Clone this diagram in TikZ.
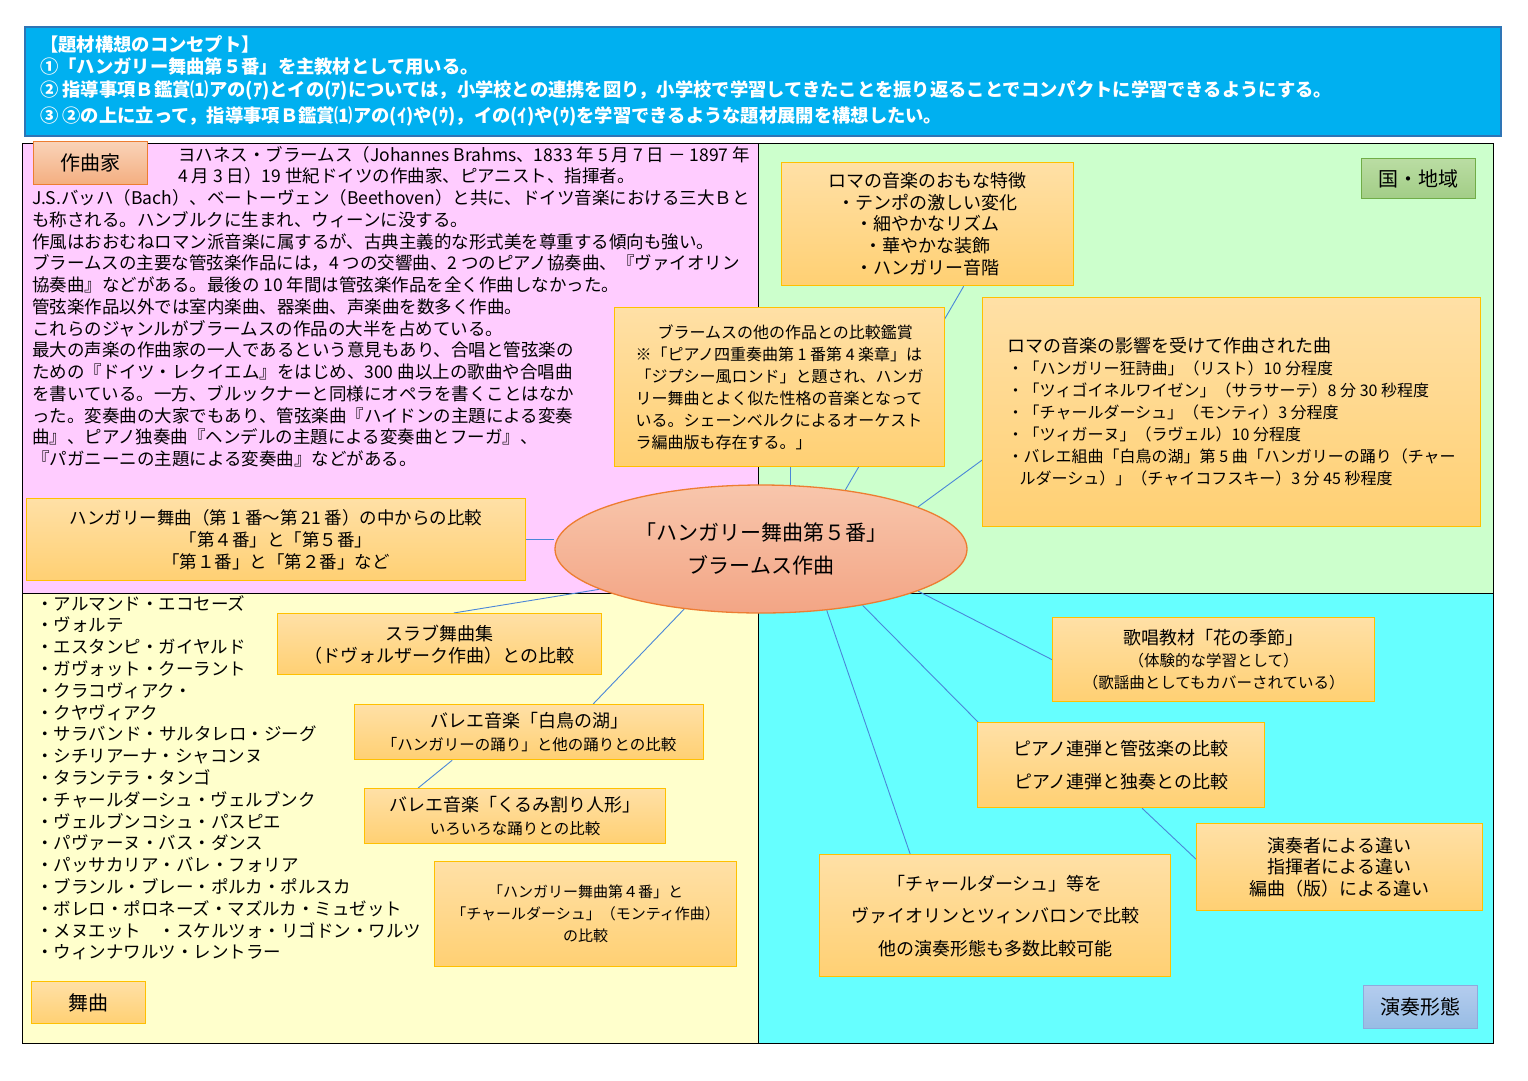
\documentclass[tikz,border=0pt]{standalone}
\usepackage{fontspec}
\setmainfont{Noto Sans CJK JP}
\usetikzlibrary{shapes.geometric}
\definecolor{bannerfill}{HTML}{00B0F0}
\definecolor{bannerline}{HTML}{2E75B6}
\definecolor{quadpink}{HTML}{FFCCFF}
\definecolor{quadgreen}{HTML}{CCFFCC}
\definecolor{quadyellow}{HTML}{FFFFCC}
\definecolor{quadcyan}{HTML}{66FFFF}
\definecolor{topicline}{HTML}{FFC000}
\definecolor{topictop}{HTML}{FFE0A6}
\definecolor{topicbot}{HTML}{FFD073}
\definecolor{linkblue}{HTML}{4A86D8}
\definecolor{ellline}{HTML}{ED7D31}
\definecolor{elltop}{HTML}{F8C6AC}
\definecolor{ellbot}{HTML}{F3A585}
\definecolor{composertop}{HTML}{F9D3B8}
\definecolor{composerbot}{HTML}{F4AE80}
\definecolor{regiontop}{HTML}{BADDA3}
\definecolor{regionbot}{HTML}{A2CD86}
\definecolor{regionline}{HTML}{70AD47}
\definecolor{formtop}{HTML}{B4CCEE}
\definecolor{formbot}{HTML}{97BCE4}
\definecolor{formline}{HTML}{8FAADC}
\pgfdeclarelayer{quads}
\pgfdeclarelayer{links}
\pgfsetlayers{quads,links,main}
\tikzset{
  topic/.style={draw=topicline, line width=1.3pt, top color=topictop, bottom color=topicbot,
    align=center, inner sep=0pt, anchor=north west},
  tag/.style={line width=1.3pt, align=center, inner sep=0pt, anchor=north west,
    minimum width=114pt, font=\fontsize{20}{24}\selectfont},
  link/.style={draw=linkblue, line width=0.9pt},
}
\begin{document}
\begin{tikzpicture}[x=1pt,y=-1pt]
\useasboundingbox (0,0) rectangle (1528,1080);
% banner
\node (banner) [draw=bannerline, line width=2pt, fill=bannerfill, anchor=north west,
  minimum width=1476pt, minimum height=109pt, inner sep=0pt] at (24,26) {};
\node (concept) [anchor=north west, align=left, text=white, inner sep=0pt,
  font=\bfseries\fontsize{18.3}{22.5}\selectfont] at (40,35)
  {【題材構想のコンセプト】\\
   ①「ハンガリー舞曲第５番」を主教材として用いる。\\
   ② 指導事項Ｂ鑑賞⑴アの(ｱ)とイの(ｱ)については，小学校との連携を図り，小学校で学習してきたことを振り返ることでコンパクトに学習できるようにする。\\[4pt]
   ③ ②の上に立って，指導事項Ｂ鑑賞⑴アの(ｲ)や(ｳ)，イの(ｲ)や(ｳ)を学習できるような題材展開を構想したい。};
% quadrants
\begin{pgfonlayer}{quads}
  \fill [white] (0,0) rectangle (1528,1080);
  \fill [quadpink] (22,143) rectangle (758,593);
  \fill [quadgreen] (758,143) rectangle (1493,593);
  \fill [quadyellow] (22,593) rectangle (758,1043);
  \fill [quadcyan] (758,593) rectangle (1493,1043);
  \draw [line width=1pt] (22,143) rectangle (1493,1043);
  \draw [line width=1pt] (758,143) -- (758,1043);
  \draw [line width=1pt] (22,593) -- (1493,593);
\end{pgfonlayer}
% corner tags
\node (composer) [tag, draw=ellline, top color=composertop, bottom color=composerbot,
  minimum height=43pt] at (33,141) {作曲家};
\node (region) [tag, draw=regionline, top color=regiontop, bottom color=regionbot,
  minimum height=40pt] at (1361,158) {国・地域};
\node (dance) [tag, draw=topicline, top color=topictop, bottom color=topicbot,
  minimum height=42pt] at (31,981) {舞曲};
\node (form) [tag, draw=formline, top color=formtop, bottom color=formbot,
  minimum height=43pt] at (1363,985) {演奏形態};
% composer text
\node (bio) [anchor=north west, align=left, inner sep=0pt,
  font=\fontsize{17.5}{21.75}\selectfont] at (32,146)
  {\hspace*{146pt}ヨハネス・ブラームス（Johannes Brahms、1833 年 5 月 7 日 － 1897 年\\
   \hspace*{146pt}4 月 3 日）19 世紀ドイツの作曲家、ピアニスト、指揮者。\\
   J.S.バッハ（Bach）、ベートーヴェン（Beethoven）と共に、ドイツ音楽における三大Ｂと\\
   も称される。ハンブルクに生まれ、ウィーンに没する。\\
   作風はおおむねロマン派音楽に属するが、古典主義的な形式美を尊重する傾向も強い。\\
   ブラームスの主要な管弦楽作品には，4 つの交響曲、2 つのピアノ協奏曲、『ヴァイオリン\\
   協奏曲』などがある。最後の 10 年間は管弦楽作品を全く作曲しなかった。\\
   管弦楽作品以外では室内楽曲、器楽曲、声楽曲を数多く作曲。\\
   これらのジャンルがブラームスの作品の大半を占めている。\\
   最大の声楽の作曲家の一人であるという意見もあり、合唱と管弦楽の\\
   ための『ドイツ・レクイエム』をはじめ、300 曲以上の歌曲や合唱曲\\
   を書いている。一方、ブルックナーと同様にオペラを書くことはなか\\
   った。変奏曲の大家でもあり、管弦楽曲『ハイドンの主題による変奏\\
   曲』、ピアノ独奏曲『ヘンデルの主題による変奏曲とフーガ』、\\
   『パガニーニの主題による変奏曲』などがある。};
% dance list
\node (dancelist) [anchor=north west, align=left, inner sep=0pt,
  font=\fontsize{17.5}{21.8}\selectfont] at (36,595)
  {・アルマンド・エコセーズ\\ ・ヴォルテ\\ ・エスタンピ・ガイヤルド\\
   ・ガヴォット・クーラント\\ ・クラコヴィアク・\\ ・クヤヴィアク\\
   ・サラバンド・サルタレロ・ジーグ\\ ・シチリアーナ・シャコンヌ\\
   ・タランテラ・タンゴ\\ ・チャールダーシュ・ヴェルブンク\\
   ・ヴェルブンコシュ・パスピエ\\ ・パヴァーヌ・バス・ダンス\\
   ・パッサカリア・バレ・フォリア\\ ・ブランル・ブレー・ポルカ・ポルスカ\\
   ・ボレロ・ポロネーズ・マズルカ・ミュゼット\\
   ・メヌエット　・スケルツォ・リゴドン・ワルツ\\ ・ウィンナワルツ・レントラー};
% central theme
\node (theme) [ellipse, draw=ellline, line width=1.3pt, top color=elltop, bottom color=ellbot,
  minimum width=412pt, minimum height=128pt, inner sep=0pt, align=center,
  font=\fontsize{21}{33}\selectfont] at (761,549)
  {「ハンガリー舞曲第５番」\\ ブラームス作曲};
% topic boxes
\node (romatraits) [topic, minimum width=292pt, minimum height=123pt,
  font=\fontsize{18}{21.7}\selectfont] at (781,162)
  {ロマの音楽のおもな特徴\\ ・テンポの激しい変化\\ ・細やかなリズム\\ ・華やかな装飾\\ ・ハンガリー音階};
\node (otherworks) [topic, minimum width=330pt, minimum height=159pt, align=left,
  font=\fontsize{16}{22}\selectfont] at (614,307)
  {\hspace*{22pt}ブラームスの他の作品との比較鑑賞\\
   ※「ピアノ四重奏曲第 1 番第 4 楽章」は\\
   「ジプシー風ロンド」と題され、ハンガ\\
   リー舞曲とよく似た性格の音楽となって\\
   いる。シェーンベルクによるオーケスト\\
   ラ編曲版も存在する。」};
\node (romaworks) [topic, minimum width=498pt, minimum height=229pt, align=left,
  font=\fontsize{16}{22}\selectfont] at (982,297)
  {{\fontsize{18}{22}\selectfont ロマの音楽の影響を受けて作曲された曲}\\
   ・「ハンガリー狂詩曲」（リスト）10 分程度\\
   ・「ツィゴイネルワイゼン」（サラサーテ）8 分 30 秒程度\\
   ・「チャールダーシュ」（モンティ）3 分程度\\
   ・「ツィガーヌ」（ラヴェル）10 分程度\\
   ・バレエ組曲「白鳥の湖」第 5 曲「ハンガリーの踊り（チャー\\
   \hspace*{12pt}ルダーシュ）」（チャイコフスキー）3 分 45 秒程度};
\node (hungdances) [topic, minimum width=499pt, minimum height=82pt,
  font=\fontsize{17.5}{22}\selectfont] at (26,498)
  {ハンガリー舞曲（第 1 番～第 21 番）の中からの比較\\
   「第４番」と「第５番」\\ 「第１番」と「第２番」など};
\node (slavonic) [topic, minimum width=324pt, minimum height=61pt,
  font=\fontsize{18}{22}\selectfont] at (277,613)
  {スラブ舞曲集\\ （ドヴォルザーク作曲）との比較};
\node (swanlake) [topic, minimum width=349pt, minimum height=55pt,
  font=\fontsize{18}{23}\selectfont] at (354,704)
  {バレエ音楽「白鳥の湖」\\ {\fontsize{15.5}{23}\selectfont「ハンガリーの踊り」と他の踊りとの比較}};
\node (nutcracker) [topic, minimum width=301pt, minimum height=55pt,
  font=\fontsize{18}{23}\selectfont] at (364,788)
  {バレエ音楽「くるみ割り人形」\\ {\fontsize{15.5}{23}\selectfont いろいろな踊りとの比較}};
\node (fourth) [topic, minimum width=302pt, minimum height=105pt,
  font=\fontsize{15}{22}\selectfont] at (434,861)
  {「ハンガリー舞曲第４番」と\\ 「チャールダーシュ」（モンティ作曲）\\ の比較};
\node (song) [topic, minimum width=322pt, minimum height=84pt,
  font=\fontsize{15.5}{22}\selectfont] at (1052,617)
  {{\fontsize{18}{22}\selectfont 歌唱教材「花の季節」}\\ （体験的な学習として）\\ （歌謡曲としてもカバーされている）};
\node (piano) [topic, minimum width=287pt, minimum height=85pt,
  font=\fontsize{18}{33}\selectfont] at (977,722)
  {ピアノ連弾と管弦楽の比較\\ ピアノ連弾と独奏との比較};
\node (players) [topic, minimum width=286pt, minimum height=87pt,
  font=\fontsize{18}{21.7}\selectfont] at (1196,823)
  {演奏者による違い\\ 指揮者による違い\\ 編曲（版）による違い};
\node (csardas) [topic, minimum width=351pt, minimum height=122pt,
  font=\fontsize{18}{32.5}\selectfont] at (819,854)
  {「チャールダーシュ」等を\\ ヴァイオリンとツィンバロンで比較\\ 他の演奏形態も多数比較可能};
% connectors
\begin{pgfonlayer}{links}
  \draw [link] (theme.35) -- ([xshift=36pt]romatraits.south);
  \draw [link] (theme.65) -- (theme.65 |- otherworks.south);
  \draw [link] (theme.15) -- ([yshift=-48pt]romaworks.west);
  \draw [link] (hungdances.east) -- (theme.west |- hungdances.east);
  \draw [link] (theme.194) -- ([xshift=14pt]slavonic.north);
  \draw [link] (theme.218) -- ([xshift=64pt]swanlake.north);
  \draw [link] ([xshift=-77pt]swanlake.south) -- ([xshift=-97pt]nutcracker.north);
  \draw [link] (theme.-15) -- (song.west);
  \draw [link] (theme.-29) -- ([xshift=4pt,yshift=-3pt]piano.north west);
  \draw [link] ([xshift=21pt]piano.south) -- ([yshift=8pt]players.west);
  \draw [link] (theme.-43) -- ([xshift=-85pt]csardas.north);
\end{pgfonlayer}
\end{tikzpicture}
\end{document}
